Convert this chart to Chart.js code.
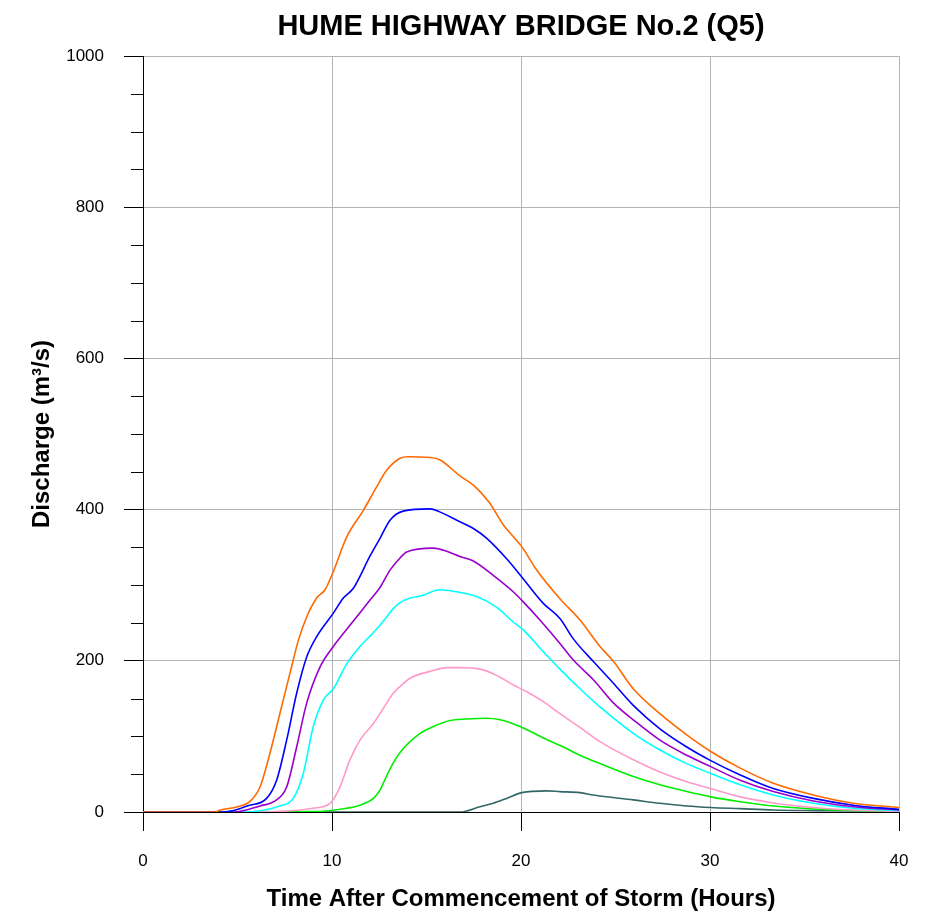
<!DOCTYPE html>
<html>
<head>
<meta charset="utf-8">
<title>Hume Highway Bridge No.2 (Q5)</title>
<script src="https://cdn.jsdelivr.net/npm/chart.js@4/dist/chart.umd.min.js"></script>
<style>
  html, body { margin: 0; padding: 0; background: #ffffff; }
  #wrap { width: 941px; height: 918px; }
</style>
</head>
<body>
<div id="wrap"><canvas id="hydro" width="941" height="918"></canvas></div>
<script>
// Hydrographs at Hume Highway Bridge No.2, time (hours) vs discharge (m3/s)
const orangeT = [0, 3.8, 4.1, 5.0, 5.66, 6.19, 6.72, 7.25, 7.78, 8.22, 8.66, 9.19, 9.63, 10.07, 10.78, 11.66, 12.36, 12.89, 13.6, 14.0, 15.2, 15.7, 16.8, 17.5, 18.36, 19.06, 19.6, 20.04, 20.83, 22.06, 23.12, 24.18, 24.9, 25.94, 27.35, 28.77, 30.04, 31.6, 33.35, 35.47, 37.58, 40];
const orangeQ = [0, 0, 2.6, 7, 14, 33, 78, 131, 184, 227, 258, 283, 294, 318, 364, 399, 430, 452, 468, 470, 469, 466, 444, 432, 408, 380, 364, 351, 320, 282, 254, 219, 199, 163, 130, 102, 80, 58, 38, 22.5, 11.5, 6];

const blueT = [0, 4.2, 4.8, 5.5, 6.54, 7.07, 7.6, 8.13, 8.66, 9.19, 10.07, 10.6, 11.13, 12.0, 12.54, 13.07, 13.77, 15.19, 15.7, 16.6, 17.48, 18.19, 19.24, 20.04, 21.18, 22.06, 22.77, 23.83, 24.9, 25.94, 27.35, 28.77, 30.04, 31.6, 33.35, 35.47, 37.58, 40];
const blueQ = [0, 0, 2, 8, 18, 42, 95, 157, 205, 232, 263, 283, 296, 338, 362, 386, 398, 401, 397, 386, 375, 362, 335, 311, 276, 256, 229, 199, 170, 141, 110, 86, 68, 49, 31, 18, 9, 3.5];

const purpleT = [0, 4.8, 6.19, 7.07, 7.6, 8.13, 8.66, 9.37, 10.07, 10.6, 11.3, 12.0, 12.54, 13.07, 13.6, 13.95, 15.36, 16.07, 16.77, 17.48, 18.53, 19.6, 20.12, 21.0, 22.06, 22.77, 23.83, 24.9, 25.94, 27.35, 28.77, 30.04, 31.6, 33.35, 35.47, 37.58, 40];
const purpleQ = [0, 0, 8, 16, 33, 86, 144, 192, 219, 236, 258, 280, 297, 320, 336, 344, 349, 345, 338, 332, 313, 291, 278, 254, 223, 201, 175, 144, 122, 95, 75, 60, 42, 27, 14.5, 7, 2.6];

const cyanT = [0, 5.2, 7.25, 7.95, 8.48, 9.01, 9.54, 10.07, 10.78, 11.48, 12.1, 12.54, 12.89, 13.24, 13.6, 14.13, 14.74, 15.7, 16.42, 17.65, 18.7, 19.6, 20.12, 21.18, 22.06, 23.12, 24.18, 25.94, 27.35, 28.77, 30.04, 31.6, 33.35, 35.47, 37.58, 40];
const cyanQ = [0, 0, 8, 18, 51, 113, 148, 163, 196, 219, 235, 247, 258, 269, 277, 283, 286, 294, 292, 285, 271, 251, 241, 212, 189, 163, 139, 104, 82, 64, 51, 36, 22.5, 11.5, 4.9, 1.8];

const pinkT = [0, 6.0, 9.0, 9.9, 10.42, 10.95, 11.48, 12.19, 12.54, 12.89, 13.24, 13.6, 14.13, 15.19, 16.07, 16.77, 17.83, 18.53, 19.6, 20.3, 21.18, 22.06, 23.12, 24.18, 25.94, 27.35, 28.77, 30.04, 31.6, 33.35, 35.47, 37.58, 40];
const pinkQ = [0, 0, 5, 11.5, 33, 69, 95, 117, 130, 144, 157, 166, 177, 186, 191, 191, 189, 183, 168, 159, 146, 130, 112, 93, 69, 53, 40, 31, 20, 12, 6, 2.6, 1];

const greenT = [0, 9.0, 10.78, 11.48, 12.19, 12.54, 12.71, 13.24, 13.77, 14.66, 15.36, 16.24, 17.13, 18.19, 18.89, 19.95, 21.18, 22.24, 23.12, 24.18, 25.94, 27.35, 28.77, 30.04, 31.6, 33.35, 35.47, 37.58, 40];
const greenQ = [0, 0.5, 5, 9, 18, 29, 38, 65, 84, 104, 113, 121, 123, 124, 122, 113, 98, 86, 75, 64, 47, 36, 27, 20, 13.6, 8, 4, 2, 0.5];

const slateT = [0, 16.77, 17.83, 18.53, 19.24, 20.04, 21.36, 22.06, 23.12, 23.83, 25.94, 27.35, 28.77, 30.04, 31.6, 33.35, 35.47, 40];
const slateQ = [0, 0, 7, 11.5, 18, 25.6, 28, 27, 25.6, 22.5, 16, 11.5, 8, 6, 4.4, 2.6, 1.8, 1];

// Axis ranges and tick steps
const xTicks = [0, 10, 20, 30, 40];
const yMajorTicks = [0, 200, 400, 600, 800, 1000];
const yMinorStep = 50;

const FONT = "'Liberation Sans', Arial, Helvetica, sans-serif";

function pts(t, q) { return t.map((v, i) => ({ x: v, y: q[i] })); }

const series = [
  { label: 'Orange', t: orangeT, q: orangeQ, color: '#ff6a00' },
  { label: 'Blue', t: blueT, q: blueQ, color: '#0000ff' },
  { label: 'Purple', t: purpleT, q: purpleQ, color: '#9a00cc' },
  { label: 'Cyan', t: cyanT, q: cyanQ, color: '#00ffff' },
  { label: 'Pink', t: pinkT, q: pinkQ, color: '#ff99cc' },
  { label: 'Green', t: greenT, q: greenQ, color: '#00ee00' },
  { label: 'Slate', t: slateT, q: slateQ, color: '#336666' }
];

// Short minor ticks on the discharge axis
const minorTicks = {
  id: 'minorTicks',
  afterDraw(chart) {
    const y = chart.scales.y;
    const ctx = chart.ctx;
    ctx.save();
    ctx.strokeStyle = '#000000';
    ctx.lineWidth = 1;
    for (let v = y.min; v <= y.max; v += yMinorStep) {
      if (yMajorTicks.includes(v)) continue;
      const py = Math.round(y.getPixelForValue(v)) + 0.5;
      ctx.beginPath();
      ctx.moveTo(y.right - 12, py);
      ctx.lineTo(y.right, py);
      ctx.stroke();
    }
    ctx.restore();
  }
};

new Chart(document.getElementById('hydro'), {
  type: 'line',
  data: {
    datasets: series.map(s => ({
      label: s.label,
      data: pts(s.t, s.q),
      borderColor: s.color,
      backgroundColor: s.color,
      borderWidth: 1.6,
      pointRadius: 0,
      fill: false,
      cubicInterpolationMode: 'monotone'
    }))
  },
  options: {
    responsive: false,
    animation: false,
    layout: { padding: { left: 0, right: 42, top: 0, bottom: 0 } },
    plugins: {
      legend: { display: false },
      tooltip: { enabled: false },
      title: {
        display: true,
        text: 'HUME HIGHWAY BRIDGE No.2 (Q5)',
        fullSize: false,
        color: '#000000',
        font: { family: FONT, size: 29, weight: 'bold', lineHeight: 1.2 },
        padding: { top: 10, bottom: 11.2 }
      }
    },
    scales: {
      x: {
        type: 'linear',
        min: 0,
        max: 40,
        afterFit(scale) { scale.height = 106; },
        afterBuildTicks(scale) { scale.ticks = xTicks.map(v => ({ value: v })); },
        ticks: {
          color: '#000000',
          font: { family: FONT, size: 17 },
          padding: 20,
          maxRotation: 0,
          callback: v => String(v)
        },
        grid: {
          color: '#b4b4b4',
          lineWidth: 1,
          tickLength: 19,
          tickColor: '#000000',
          tickWidth: 1
        },
        border: { display: true, color: '#000000', width: 1 },
        title: {
          display: true,
          text: 'Time After Commencement of Storm (Hours)',
          color: '#000000',
          font: { family: FONT, size: 24, weight: 'bold', lineHeight: 1.2 },
          padding: { top: 0, bottom: 4.6 }
        }
      },
      y: {
        type: 'linear',
        min: 0,
        max: 1000,
        afterFit(scale) { scale.width = 143; },
        afterBuildTicks(scale) { scale.ticks = yMajorTicks.map(v => ({ value: v })); },
        ticks: {
          color: '#000000',
          font: { family: FONT, size: 17 },
          padding: 20,
          callback: v => String(v)
        },
        grid: {
          color: '#b4b4b4',
          lineWidth: 1,
          tickLength: 19,
          tickColor: '#000000',
          tickWidth: 1
        },
        border: { display: true, color: '#000000', width: 1 },
        title: {
          display: true,
          text: 'Discharge (m³/s)',
          color: '#000000',
          font: { family: FONT, size: 24, weight: 'bold', lineHeight: 1.2 },
          padding: { top: 27.6, bottom: 0 }
        }
      }
    }
  },
  plugins: [minorTicks]
});
</script>
</body>
</html>
